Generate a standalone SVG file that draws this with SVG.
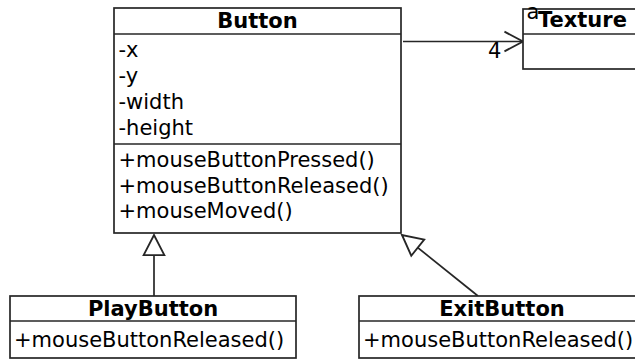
<svg xmlns="http://www.w3.org/2000/svg" width="635" height="360" viewBox="0 0 635 360">
  <style>
    .box { fill: #ffffff; stroke: #262626; stroke-width: 1.7; }
    .sep { stroke: #262626; stroke-width: 1.7; }
    .t { font-family: "DejaVu Sans", "Liberation Sans", sans-serif; font-size: 21px; fill: #000; }
    .h { font-weight: bold; text-anchor: middle; }
    .edge { fill: none; stroke: #262626; stroke-width: 1.7; }
  </style>
  <defs>
    <marker id="gen" markerUnits="userSpaceOnUse" markerWidth="24" markerHeight="24" viewBox="-1 -11 21 22" refX="18.5" refY="0" orient="auto" overflow="visible">
      <path d="M0,-9.5 L18.5,0 L0,9.5 Z" fill="#ffffff" stroke="#262626" stroke-width="1.7" stroke-linejoin="miter"/>
    </marker>
    <marker id="open" markerUnits="userSpaceOnUse" markerWidth="24" markerHeight="24" viewBox="-1 -11 21 22" refX="17" refY="0" orient="auto" overflow="visible">
      <path d="M0,-9 L17,0 L0,9" fill="none" stroke="#262626" stroke-width="1.7"/>
    </marker>
  </defs>

  <rect width="635" height="360" fill="#ffffff"/>

  <g id="connectors">
    <line class="edge" x1="403" y1="41.5" x2="523" y2="41.5" marker-end="url(#open)"/>
    <text class="t" x="488" y="58">4</text>
    <line class="edge" x1="154" y1="296" x2="154" y2="235" marker-end="url(#gen)"/>
    <line class="edge" x1="478" y1="296" x2="402" y2="235" marker-end="url(#gen)"/>
  </g>

  <g id="Button">
    <rect class="box" x="114" y="8" width="287" height="225"/>
    <line class="sep" x1="114" y1="34" x2="401" y2="34"/>
    <line class="sep" x1="114" y1="144" x2="401" y2="144"/>
    <text class="t h" x="257.5" y="28">Button</text>
    <text class="t" x="118.5" y="57">-x</text>
    <text class="t" x="118.5" y="83">-y</text>
    <text class="t" x="118.5" y="109">-width</text>
    <text class="t" x="118.5" y="135">-height</text>
    <text class="t" x="118.5" y="167">+mouseButtonPressed()</text>
    <text class="t" x="118.5" y="193">+mouseButtonReleased()</text>
    <text class="t" x="118.5" y="218">+mouseMoved()</text>
  </g>

  <g id="Texture">
    <rect class="box" x="523" y="9" width="130" height="60"/>
    <line class="sep" x1="523" y1="34" x2="653" y2="34"/>
    <text class="t" x="526.5" y="18.5" font-size="9px">a</text>
    <text class="t" x="538" y="27" font-weight="bold">Texture</text>
  </g>

  <g id="PlayButton">
    <rect class="box" x="10" y="296" width="286" height="62"/>
    <line class="sep" x1="10" y1="321" x2="296" y2="321"/>
    <text class="t h" x="153" y="316">PlayButton</text>
    <text class="t" x="14" y="347">+mouseButtonReleased()</text>
  </g>

  <g id="ExitButton">
    <rect class="box" x="359" y="296" width="286" height="62"/>
    <line class="sep" x1="359" y1="321" x2="645" y2="321"/>
    <text class="t h" x="502" y="316">ExitButton</text>
    <text class="t" x="363" y="347">+mouseButtonReleased()</text>
  </g>
</svg>
